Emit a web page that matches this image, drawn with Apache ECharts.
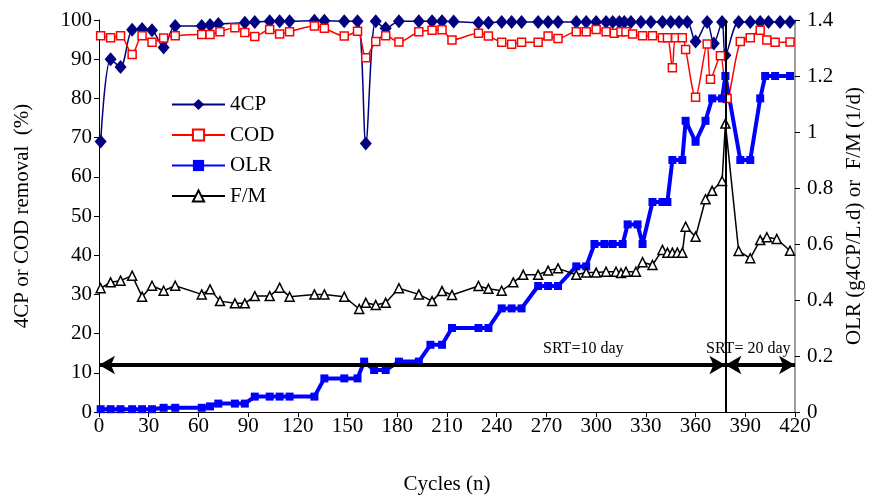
<!DOCTYPE html>
<html>
<head>
<meta charset="utf-8">
<script src="https://cdn.jsdelivr.net/npm/echarts@6/dist/echarts.min.js"></script>
<style>
  html, body { margin: 0; padding: 0; background: #fff; }
  #main { width: 873px; height: 497px; }
</style>
</head>
<body>
<div id="main"></div>
<script>
// 4CP removal (%)
const cyc4cp = [1,7,13,20,26,32,39,46,62,67,72,88,94,103,109,115,130,136,148,156,161,167,173,181,193,201,207,214,229,235,243,249,255,265,271,277,288,294,300,306,310,314,317,321,327,333,340,345,350,355,360,367,371,376,378,386,393,399,404,411,417];
const val4cp = [69,90,88,97.5,97.7,97.4,93,98.5,98.5,98.7,99,99.3,99.5,99.7,99.7,99.7,99.8,99.8,99.7,99.7,68.5,99.7,97.9,99.7,99.7,99.7,99.7,99.6,99.3,99.3,99.5,99.5,99.5,99.5,99.5,99.5,99.5,99.5,99.5,99.5,99.5,99.5,99.5,99.5,99.5,99.5,99.5,99.5,99.5,99.5,94.5,99.5,94,99.5,91,99.5,99.5,99.5,99.5,99.5,99.5];

// COD removal (%)
const cycCod = [1,7,13,20,26,32,39,46,62,67,73,82,88,94,103,109,115,130,136,148,156,161,167,173,181,193,201,207,213,229,235,243,249,255,265,271,277,288,294,300,306,311,315,318,322,328,334,340,343,346,348,352,354,360,367,369,375,379,387,393,399,403,408,417];
const valCod = [96,95.5,96,91.2,96,94.3,95.4,96,96.3,96.3,97,98,96.8,95.8,97.6,96.4,97,98.5,97.9,95.9,97.1,90.4,94.5,96,94.4,97,97.4,97.5,94.9,96.6,95.9,94.3,93.8,94.3,94.3,95.9,95.3,97,97,97.6,97,96.6,97,97,96.4,96,96,95.5,95.5,87.8,95.5,95.5,92.5,80.3,93.9,84.9,90.9,80,94.5,95.5,97.4,94.9,94.3,94.4];

// OLR (g4CP/L.d)
const cycOlr = [1,7,13,20,26,32,39,46,62,67,72,82,88,94,103,109,115,130,136,148,156,160,166,173,181,193,200,207,213,229,235,243,249,255,265,271,277,288,294,299,305,310,316,319,325,328,334,340,343,346,352,354,360,366,370,376,378,387,393,399,402,408,417];
const valOlr = [0.01,0.01,0.01,0.01,0.01,0.01,0.015,0.015,0.015,0.02,0.03,0.03,0.03,0.055,0.055,0.055,0.055,0.055,0.12,0.12,0.12,0.18,0.15,0.15,0.18,0.18,0.24,0.24,0.30,0.30,0.30,0.37,0.37,0.37,0.45,0.45,0.45,0.52,0.52,0.60,0.60,0.60,0.60,0.67,0.67,0.60,0.75,0.75,0.75,0.90,0.90,1.04,0.965,1.04,1.12,1.12,1.2,0.9,0.9,1.12,1.2,1.2,1.2];

// F/M (1/d)
const cycFm = [1,7,13,20,26,32,39,46,62,67,73,82,88,94,103,109,115,130,136,148,157,161,167,173,181,193,201,207,213,229,235,243,250,256,265,271,277,288,294,300,306,312,315,318,324,328,334,340,343,346,349,352,354,360,366,370,376,378,386,393,399,403,409,417];
const valFm = [0.442,0.463,0.469,0.487,0.412,0.451,0.433,0.451,0.42,0.438,0.396,0.388,0.388,0.414,0.414,0.444,0.412,0.42,0.42,0.412,0.368,0.39,0.382,0.39,0.442,0.42,0.396,0.432,0.418,0.45,0.44,0.433,0.463,0.49,0.49,0.505,0.513,0.49,0.498,0.498,0.501,0.501,0.496,0.501,0.501,0.535,0.525,0.579,0.569,0.569,0.569,0.569,0.662,0.626,0.76,0.79,0.825,1.03,0.575,0.549,0.614,0.624,0.618,0.576];

const srtSwitch = 378;   // cycle where SRT changed
const arrowLevel = 12;   // left-axis height of the SRT arrows

const FONT = "'Liberation Serif', 'Times New Roman', serif";

function pairs(xs, ys) {
  return xs.map((x, i) => [x, ys[i]]);
}

let chart = echarts.init(document.getElementById('main'));

const arrowStyle = { color: '#000', width: 4, type: 'solid' };

let option = {
  animation: false,
  textStyle: { fontFamily: FONT, color: '#000' },
  grid: { left: 99, right: 78, top: 20, bottom: 85, outerBoundsMode: 'none' },
  legend: {
    orient: 'vertical',
    left: 166,
    top: 89,
    itemWidth: 53,
    itemHeight: 14,
    itemGap: 9.5,
    textStyle: { fontFamily: FONT, fontSize: 21, color: '#000', lineHeight: 21 },
    data: ['4CP', 'COD', 'OLR', 'F/M']
  },
  xAxis: {
    type: 'value',
    min: 0, max: 420, interval: 30,
    name: 'Cycles (n)',
    nameLocation: 'middle',
    nameGap: 62,
    nameTextStyle: { fontFamily: FONT, fontSize: 21, color: '#000' },
    axisLine: { lineStyle: { color: '#000', width: 1 } },
    axisTick: { length: 5, lineStyle: { color: '#000' } },
    axisLabel: { fontFamily: FONT, fontSize: 21, color: '#000', margin: 4 },
    splitLine: { show: false }
  },
  yAxis: [
    {
      type: 'value',
      min: 0, max: 100, interval: 10,
      name: '4CP or COD removal  (%)',
      nameLocation: 'middle',
      nameRotate: 90,
      nameGap: 66,
      nameTextStyle: { fontFamily: FONT, fontSize: 21, color: '#000' },
      axisLine: { show: true, lineStyle: { color: '#000', width: 1 } },
      axisTick: { show: true, length: 5, lineStyle: { color: '#000' } },
      axisLabel: { fontFamily: FONT, fontSize: 21, color: '#000', margin: 7 },
      splitLine: { show: false }
    },
    {
      type: 'value',
      min: 0, max: 1.4, interval: 0.2,
      position: 'right',
      name: 'OLR (g4CP/L.d) or  F/M (1/d)',
      nameLocation: 'middle',
      nameRotate: 90,
      nameGap: 46,
      nameTextStyle: { fontFamily: FONT, fontSize: 21, color: '#000' },
      axisLine: { show: true, lineStyle: { color: '#808080', width: 1.5 } },
      axisTick: { show: true, length: 5, lineStyle: { color: '#000' } },
      axisLabel: { fontFamily: FONT, fontSize: 21, color: '#000', margin: 12 },
      splitLine: { show: false }
    }
  ],
  graphic: [
    { type: 'text', left: 543, top: 341, style: { text: 'SRT=10 day', font: "16px 'Liberation Serif', serif", fill: '#000' } },
    { type: 'text', left: 706, top: 341, style: { text: 'SRT= 20 day', font: "16px 'Liberation Serif', serif", fill: '#000' } }
  ],
  series: [
    {
      name: '4CP',
      type: 'line',
      yAxisIndex: 0,
      smooth: 0.3,
      data: pairs(cyc4cp, val4cp),
      symbol: 'diamond',
      symbolSize: [12, 14],
      lineStyle: { color: '#000080', width: 1.5 },
      itemStyle: { color: '#000080' },
      markLine: {
        silent: true,
        animation: false,
        label: { show: false },
        data: [
          [
            { coord: [srtSwitch, 0], symbol: 'none', lineStyle: { color: '#000', width: 2, type: 'solid' } },
            { coord: [srtSwitch, 100], symbol: 'none' }
          ],
          [
            { coord: [0, arrowLevel], symbol: 'arrow', symbolSize: [14, 16], lineStyle: arrowStyle },
            { coord: [srtSwitch, arrowLevel], symbol: 'arrow', symbolSize: [14, 16] }
          ],
          [
            { coord: [srtSwitch, arrowLevel], symbol: 'arrow', symbolSize: [14, 16], lineStyle: arrowStyle },
            { coord: [420, arrowLevel], symbol: 'arrow', symbolSize: [14, 16] }
          ]
        ]
      }
    },
    {
      name: 'COD',
      type: 'line',
      yAxisIndex: 0,
      smooth: 0.3,
      data: pairs(cycCod, valCod),
      symbol: 'rect',
      symbolSize: 8,
      showAllSymbol: true,
      lineStyle: { color: '#ff0000', width: 1.5 },
      itemStyle: { color: '#fff', borderColor: '#ff0000', borderWidth: 1.5 }
    },
    {
      name: 'OLR',
      type: 'line',
      yAxisIndex: 1,
      data: pairs(cycOlr, valOlr),
      symbol: 'rect',
      symbolSize: 8,
      showAllSymbol: true,
      lineStyle: { color: '#0000ff', width: 4 },
      itemStyle: { color: '#0000ff' }
    },
    {
      name: 'F/M',
      type: 'line',
      yAxisIndex: 1,
      data: pairs(cycFm, valFm),
      symbol: 'triangle',
      symbolSize: 9,
      showAllSymbol: true,
      lineStyle: { color: '#000', width: 1.5 },
      itemStyle: { color: '#fff', borderColor: '#000', borderWidth: 1.5 }
    }
  ]
};

chart.setOption(option);
</script>
</body>
</html>
